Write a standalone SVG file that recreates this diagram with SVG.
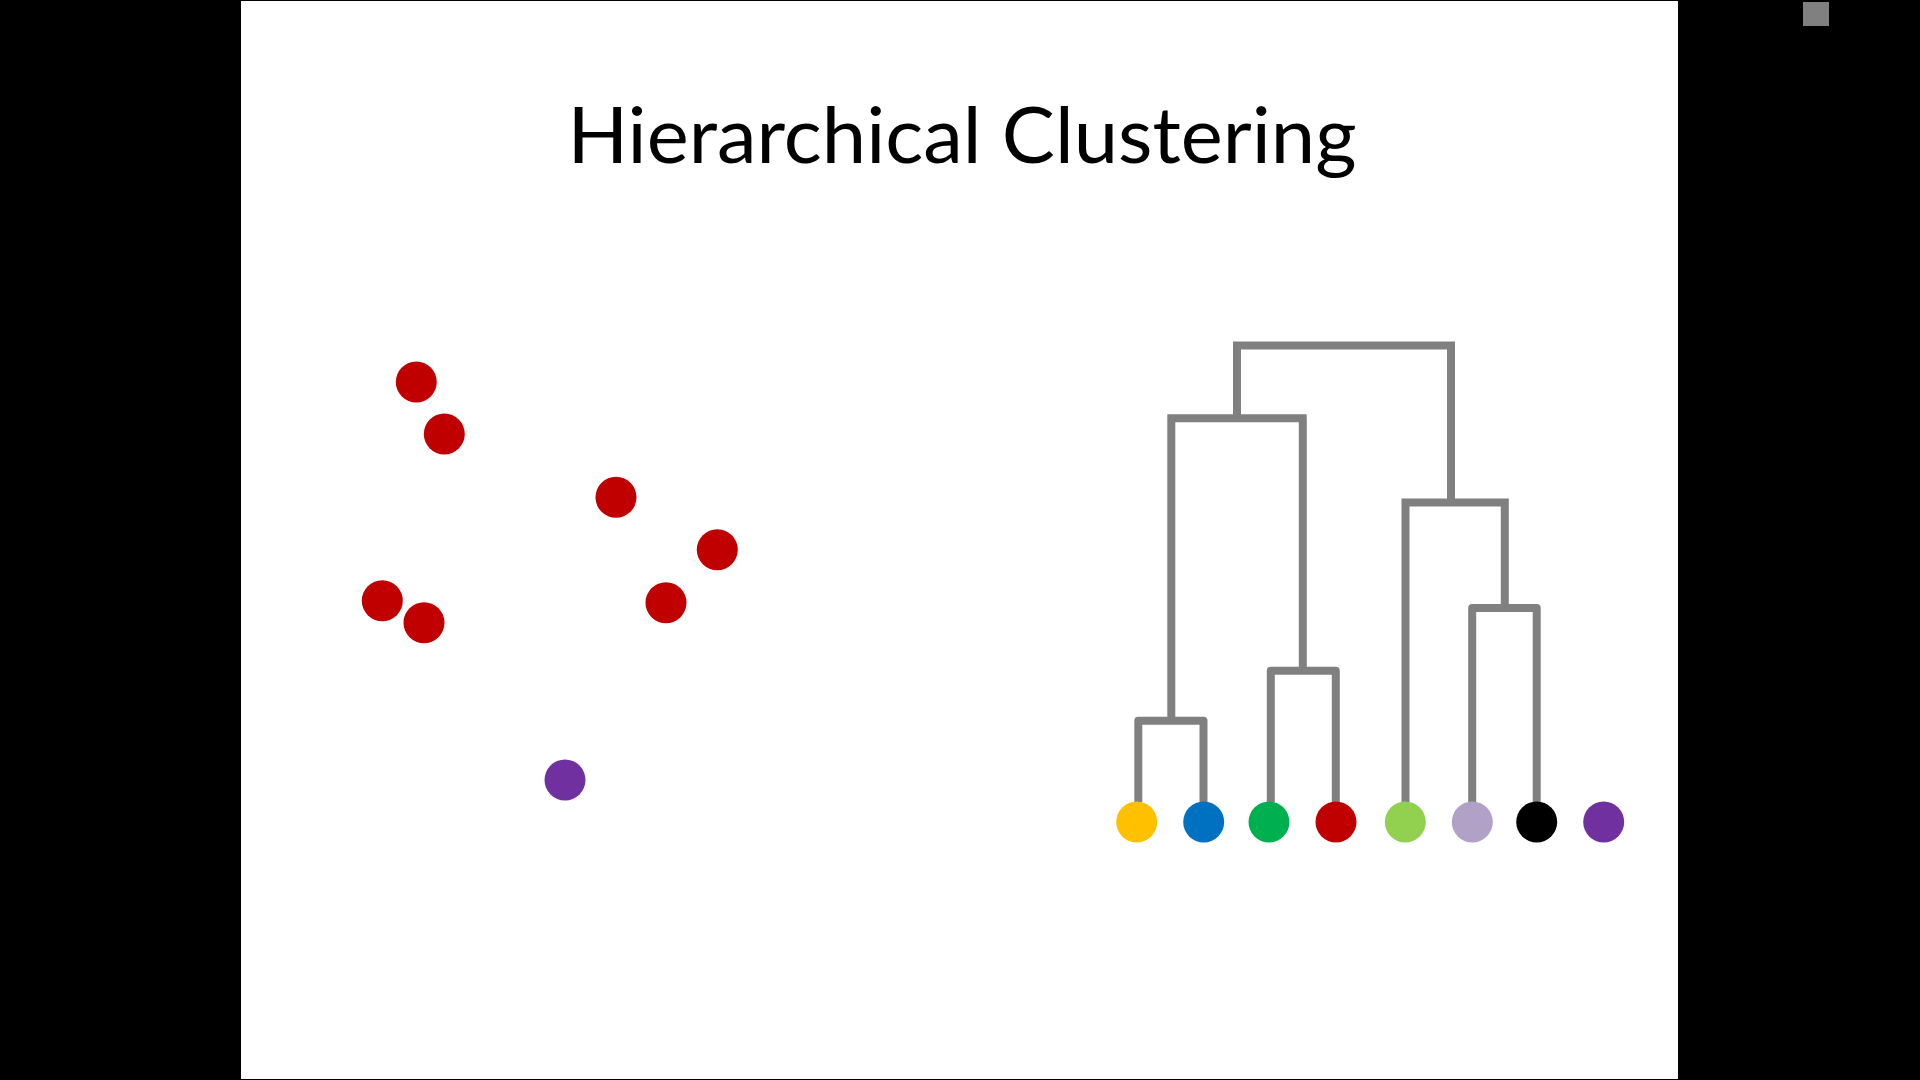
<svg xmlns="http://www.w3.org/2000/svg" width="1920" height="1080" viewBox="0 0 1920 1080">
<style>
.bg{fill:#000}
.slide{fill:#fff}
.title{font-family:Lato,"Open Sans","Liberation Sans",sans-serif;font-size:78px;fill:#000}
.link{fill:none;stroke:#808080;stroke-width:8}
.rj{stroke-linejoin:round}
.mj{stroke-linejoin:miter}
.red{fill:#C00000}
.purple{fill:#7030A0}
</style>
<rect class="bg" x="0" y="0" width="1920" height="1080"/>
<rect class="slide" x="241" y="1" width="1437" height="1078"/>
<rect x="1803" y="2" width="26" height="24" fill="#808080"/>
<text id="title" class="title" x="962" y="163" text-anchor="middle" textLength="789" lengthAdjust="spacingAndGlyphs">Hierarchical Clustering</text>
<g id="scatter">
<circle id="p1" class="red" cx="416.3" cy="382" r="20.5"/>
<circle id="p2" class="red" cx="444.3" cy="434" r="20.5"/>
<circle id="p3" class="red" cx="616" cy="497.3" r="20.5"/>
<circle id="p4" class="red" cx="717.3" cy="549.7" r="20.5"/>
<circle id="p5" class="red" cx="382.3" cy="600.7" r="20.5"/>
<circle id="p6" class="red" cx="424" cy="622.7" r="20.5"/>
<circle id="p7" class="red" cx="666" cy="602.7" r="20.5"/>
<circle id="p8" class="purple" cx="565" cy="780" r="20.5"/>
</g>
<g id="connectors">
<path class="link rj" d="M1138.3 802 V720.7 H1203.5 V802"/>
<path class="link rj" d="M1270.8 802 V670.7 H1335.8 V802"/>
<path class="link rj" d="M1472.2 802 V608 H1536.7 V802"/>
<path class="link mj" d="M1171.3 720.7 V418.3 M1167.3 418.3 H1306.7 M1302.8 418.3 V670.7"/>
<path class="link mj" d="M1405.5 802 V502.5 H1508.8 M1504.8 502.5 V608"/>
<path class="link mj" d="M1237 418.3 V345.5 M1233 345.5 H1455 M1451 345.5 V502.5"/>
</g>
<g id="leaf-yellow"><circle cx="1136.7" cy="822" r="20.5" fill="#FFC000"/></g>
<g id="leaf-blue"><circle cx="1203.7" cy="822" r="20.5" fill="#0070C0"/></g>
<g id="leaf-green"><circle cx="1269" cy="822" r="20.5" fill="#00B050"/></g>
<g id="leaf-red"><circle cx="1336" cy="822" r="20.5" fill="#C00000"/></g>
<g id="leaf-lightgreen"><circle cx="1405.3" cy="822" r="20.5" fill="#92D050"/></g>
<g id="leaf-lavender"><circle cx="1472.3" cy="822" r="20.5" fill="#B2A1C7"/></g>
<g id="leaf-black"><circle cx="1536.7" cy="822" r="20.5" fill="#000000"/></g>
<g id="leaf-purple"><circle cx="1603.7" cy="822" r="20.5" fill="#7030A0"/></g>
</svg>
